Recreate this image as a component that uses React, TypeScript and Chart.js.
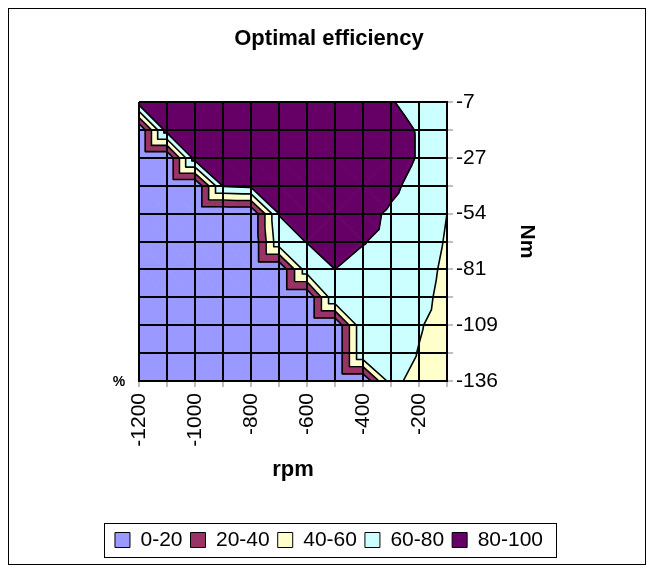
import React, { useEffect, useRef } from 'react';
import { Chart, registerables } from 'chart.js';

Chart.register(...registerables);

const FONT = "'Liberation Sans', Arial, Helvetica, sans-serif";

// rpm columns (x axis) and their printed labels
const rpmValues = [-1200, -1100, -1000, -900, -800, -700, -600, -500, -400, -300, -200, -100];
const rpmTickLabels = ['-1200', '', '-1000', '', '-800', '', '-600', '', '-400', '', '-200', ''];
// torque rows (top to bottom) and their printed labels
const torqueTickLabels = ['-7', '', '-27', '', '-54', '', '-81', '', '-109', '', '-136'];

// contour bands
const bandNames = ['0-20', '20-40', '40-60', '60-80', '80-100'];
const bandEdges = [0, 20, 40, 60, 80, 100];
const bandColors = ['#9999FF', '#993366', '#FFFFCC', '#CCFFFF', '#660066'];

// efficiency (%) per torque row, one value per rpm column
const effRow00 = [90, 92, 92, 92, 92, 92, 92, 92, 90, 81, 74, 68];
const effRow01 = [0, 90, 92, 93, 93, 93, 93, 93, 91, 85, 79, 70];
const effRow02 = [0, 0, 90, 93, 94, 94, 94, 94, 92, 86, 79, 70];
const effRow03 = [0, 0, 0, 82, 85, 92, 93, 93, 91, 83, 75, 68];
const effRow04 = [0, 0, 0, 0, 0, 80.5, 85, 88, 84, 78, 72, 60];
const effRow05 = [0, 0, 0, 0, 0, 74, 80.5, 83, 80.5, 77, 72, 58];
const effRow06 = [0, 0, 0, 0, 0, 0, 72, 80, 77, 75, 70, 55];
const effRow07 = [0, 0, 0, 0, 0, 0, 0, 78, 78, 75, 68, 52];
const effRow08 = [0, 0, 0, 0, 0, 0, 0, 0, 78, 74, 62, 50];
const effRow09 = [0, 0, 0, 0, 0, 0, 0, 0, 78, 70, 59, 48];
const effRow10 = [0, 0, 0, 0, 0, 0, 0, 0, 0, 70, 47, 45];
const effGrid = [effRow00, effRow01, effRow02, effRow03, effRow04, effRow05, effRow06, effRow07, effRow08, effRow09, effRow10];

type P = { x: number; y: number; f: number };

function clipPoly(poly: P[], level: number, keepAbove: boolean): P[] {
  if (!isFinite(level)) return poly;
  const out: P[] = [];
  const n = poly.length;
  for (let k = 0; k < n; k++) {
    const a = poly[k];
    const b = poly[(k + 1) % n];
    const ain = keepAbove ? a.f >= level : a.f <= level;
    const bin = keepAbove ? b.f >= level : b.f <= level;
    if (ain) out.push(a);
    if (ain !== bin) {
      const t = (level - a.f) / (b.f - a.f);
      out.push({ x: a.x + t * (b.x - a.x), y: a.y + t * (b.y - a.y), f: level });
    }
  }
  return out;
}

function buildTriangles(chart: any): P[][] {
  const xs = chart.scales.x;
  const ys = chart.scales.y;
  const pt = (i: number, j: number): P => ({
    x: xs.getPixelForValue(rpmValues[i]),
    y: ys.getPixelForValue(j),
    f: effGrid[j][i],
  });
  const tris: P[][] = [];
  for (let j = 0; j < effGrid.length - 1; j++) {
    for (let i = 0; i < rpmValues.length - 1; i++) {
      const tl = pt(i, j), tr = pt(i + 1, j), bl = pt(i, j + 1), br = pt(i + 1, j + 1);
      if (tl.f + br.f >= tr.f + bl.f) {
        tris.push([tl, tr, br], [tl, bl, br]);
      } else {
        tris.push([tl, bl, tr], [bl, tr, br]);
      }
    }
  }
  return tris;
}

const contourPlugin = {
  id: 'contourSurface',
  beforeDatasetsDraw(chart: any) {
    const { ctx, chartArea } = chart;
    const tris = buildTriangles(chart);
    ctx.save();
    ctx.beginPath();
    ctx.rect(chartArea.left, chartArea.top, chartArea.right - chartArea.left, chartArea.bottom - chartArea.top);
    ctx.clip();
    ctx.lineJoin = 'round';
    for (let b = 0; b < bandColors.length; b++) {
      const lo = b === 0 ? -Infinity : bandEdges[b];
      const hi = b === bandColors.length - 1 ? Infinity : bandEdges[b + 1];
      ctx.fillStyle = bandColors[b];
      ctx.strokeStyle = bandColors[b];
      ctx.lineWidth = 1;
      for (const tri of tris) {
        const poly = clipPoly(clipPoly(tri, lo, true), hi, false);
        if (poly.length < 3) continue;
        ctx.beginPath();
        ctx.moveTo(poly[0].x, poly[0].y);
        for (let k = 1; k < poly.length; k++) ctx.lineTo(poly[k].x, poly[k].y);
        ctx.closePath();
        ctx.fill();
        ctx.stroke();
      }
    }
    ctx.strokeStyle = '#000';
    ctx.lineWidth = 1.6;
    ctx.lineCap = 'round';
    ctx.beginPath();
    for (const lv of bandEdges.slice(1, -1)) {
      for (const tri of tris) {
        const pts: P[] = [];
        for (let k = 0; k < 3; k++) {
          const a = tri[k];
          const c = tri[(k + 1) % 3];
          if ((a.f >= lv) !== (c.f >= lv)) {
            const t = (lv - a.f) / (c.f - a.f);
            pts.push({ x: a.x + t * (c.x - a.x), y: a.y + t * (c.y - a.y), f: lv });
          }
        }
        if (pts.length === 2) {
          ctx.moveTo(pts[0].x, pts[0].y);
          ctx.lineTo(pts[1].x, pts[1].y);
        }
      }
    }
    ctx.stroke();
    ctx.restore();
  },
  afterDraw(chart: any) {
    const { ctx, chartArea, width, height } = chart;
    ctx.save();
    // chart frame
    ctx.strokeStyle = '#000';
    ctx.lineWidth = 1;
    ctx.strokeRect(0.5, 0.5, width - 1, height - 1);
    // legend frame
    const lg = chart.legend;
    if (lg && lg.legendHitBoxes && lg.legendHitBoxes.length) {
      const hb = lg.legendHitBoxes;
      const l = Math.min(...hb.map((h: any) => h.left));
      const r = Math.max(...hb.map((h: any) => h.left + h.width));
      const cy = hb[0].top + hb[0].height / 2;
      ctx.strokeStyle = '#000';
      ctx.lineWidth = 1;
      ctx.strokeRect(Math.round(l - 11) + 0.5, Math.round(cy - 17) + 0.5, Math.round(r - l + 24), 34);
    }
    // depth axis title
    ctx.fillStyle = '#000';
    ctx.font = `bold 14px ${FONT}`;
    ctx.textAlign = 'center';
    ctx.textBaseline = 'middle';
    ctx.fillText('%', chartArea.left - 20, chartArea.bottom + 1);
    ctx.restore();
  },
};

export default function App() {
  const ref = useRef<HTMLCanvasElement>(null);
  useEffect(() => {
    if (!ref.current) return;
    const chart = new Chart(ref.current, {
      type: 'scatter',
      data: {
        datasets: bandNames.map((name, k) => ({
          label: name,
          data: [],
          backgroundColor: bandColors[k],
          borderColor: '#000',
          borderWidth: 1,
        })),
      },
      options: {
        animation: false,
        responsive: true,
        maintainAspectRatio: false,
        layout: { padding: { left: 4, right: 0, top: 0, bottom: 4.5 } },
        plugins: {
          title: {
            display: true,
            text: 'Optimal efficiency',
            color: '#000',
            font: { family: FONT, size: 22, weight: 'bold' },
            padding: { top: 17.8, bottom: 49.8 },
          },
          legend: {
            display: true,
            position: 'bottom',
            labels: {
              color: '#000',
              font: { family: FONT, size: 21 },
              boxWidth: 15,
              boxHeight: 15,
              padding: 8,
            },
          },
          tooltip: { enabled: false },
        },
        scales: {
          x: {
            type: 'linear',
            position: 'bottom',
            min: -1200,
            max: -100,
            afterFit: (s: any) => { s.height = 140.5; },
            ticks: {
              stepSize: 100,
              autoSkip: false,
              minRotation: 90,
              maxRotation: 90,
              padding: 6,
              color: '#000',
              font: { family: FONT, size: 21 },
              callback: (v: any) => {
                const k = rpmValues.indexOf(Number(v));
                return k >= 0 ? rpmTickLabels[k] : '';
              },
            },
            grid: { color: '#000', lineWidth: 2, z: 1, tickLength: 6, tickColor: '#808080', tickWidth: 1 },
            border: { display: true, color: '#000', width: 2, z: 1 },
            title: {
              display: true,
              text: 'rpm',
              color: '#000',
              font: { family: FONT, size: 22, weight: 'bold' },
              padding: { top: 0, bottom: 38.3 },
            },
          },
          y: {
            type: 'linear',
            position: 'right',
            min: 0,
            max: 10,
            reverse: true,
            afterFit: (s: any) => { s.width = 199; },
            ticks: {
              stepSize: 1,
              autoSkip: false,
              padding: 3,
              color: '#000',
              font: { family: FONT, size: 21 },
              callback: (v: any) => torqueTickLabels[Number(v)] ?? '',
            },
            grid: { color: '#000', lineWidth: 2, z: 1, tickLength: 6, tickColor: '#808080', tickWidth: 1 },
            border: { display: true, color: '#000', width: 2, z: 1 },
            title: {
              display: true,
              text: 'Nm',
              color: '#000',
              font: { family: FONT, size: 21, weight: 'bold' },
              padding: { top: 106.4, bottom: 0 },
            },
          },
          yl: {
            type: 'linear',
            axis: 'y',
            position: 'left',
            display: true,
            afterFit: (s: any) => { s.width = 127; },
            ticks: { display: false },
            grid: { display: false, drawTicks: false },
            border: { display: false },
          },
        },
      } as any,
      plugins: [contourPlugin],
    });
    return () => chart.destroy();
  }, []);
  return (
    <div style={{ width: 638, height: 557, position: 'relative' }}>
      <canvas ref={ref} />
    </div>
  );
}
